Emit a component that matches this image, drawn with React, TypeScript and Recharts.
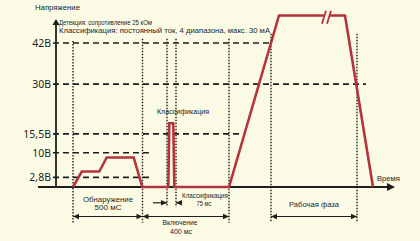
import { ComposedChart, Line, XAxis, YAxis, ReferenceLine, ReferenceDot } from 'recharts';

// waveform (time in arbitrary schematic units, voltage in V)
const waveT = [17, 25.8, 43.3, 50.7, 77.7, 86.3, 112.3, 113.3, 117.3, 118.3, 173, 223, 268, 270.5, 273, 289, 317];
const waveV = [0, 4.5, 4.5, 8.6, 8.6, 0, 0, 18.6, 18.6, 0, 0, 50, 50, null, 50, 50, 0];

// voltage levels on the Y axis
const levels = [42, 30, 15.5, 10, 2.8];
const levelLabels = ['42В', '30В', '15,5В', '10В', '2,8В'];
const levelEnd = [216, 310, 187, 94, 94];

// phase boundaries (dotted verticals)
const marks = [17, 86.5, 111, 120, 173, 215, 301];
const markTop = [42.6, 43.2, 43.2, 43.2, 43.2, 44.7, 44.7];
const markBottom = [-10.4, -10.4, -5.8, -5.8, -10.4, -10.4, -10.4];

// phase spans (double arrows)
const spanFrom = [17, 86.5, 215];
const spanTo = [86.5, 173, 301];

const BG = '#fbfbe5';
const RED = '#b3343a';
const INK = '#1e1e1e';
const FONT = '"Noto Sans", "DejaVu Sans", sans-serif';
const SMALL = '"Liberation Sans", Arial, sans-serif';

const waveData = waveT.map((t, i) => ({ t, v: waveV[i] }));

const txt = (s: string, size: number, anchor: string, len?: number, family = SMALL) => (p: any) => (
  <text x={p.cx} y={p.cy} fontSize={size} fontFamily={family} fill={INK} textAnchor={anchor}
    dominantBaseline="central" textLength={len} lengthAdjust={len ? 'spacingAndGlyphs' : undefined}>{s}</text>
);

const head = (dir: string) => (p: any) => {
  const { cx, cy } = p;
  let d = '';
  if (dir === 'right') d = `M${cx},${cy} L${cx - 6},${cy - 2.8} L${cx - 6},${cy + 2.8} Z`;
  if (dir === 'left') d = `M${cx},${cy} L${cx + 6},${cy - 2.8} L${cx + 6},${cy + 2.8} Z`;
  if (dir === 'up') d = `M${cx},${cy} L${cx - 3.5},${cy + 6} L${cx + 3.5},${cy + 6} Z`;
  if (dir === 'bigRight') d = `M${cx},${cy} L${cx - 8},${cy - 4} L${cx - 8},${cy + 4} Z`;
  return <path d={d} fill={INK} />;
};

export default function App() {
  return (
    <div style={{ position: 'absolute', left: 0, top: 0, width: 420, height: 241, background: BG }}>
      <ComposedChart width={420} height={241} data={waveData} margin={{ top: 1.78, right: 0, bottom: 2.55, left: 0 }}>
        <XAxis type="number" dataKey="t" domain={[-56, 364]} hide allowDataOverflow />
        <YAxis type="number" domain={[-15, 54]} hide allowDataOverflow />

        {levels.map((v, i) => (
          <ReferenceLine key={'l' + i} segment={[{ x: -3, y: v }, { x: levelEnd[i], y: v }]}
            stroke={INK} strokeWidth={1.6} strokeDasharray="6 4" />
        ))}
        {marks.map((t, i) => (
          <ReferenceLine key={'m' + i} segment={[{ x: t, y: markTop[i] }, { x: t, y: markBottom[i] }]}
            stroke={INK} strokeWidth={1.4} strokeDasharray="1.5 1.5" />
        ))}

        {/* axes */}
        <ReferenceLine segment={[{ x: 0, y: 0 }, { x: 0, y: 47.5 }]} stroke={INK} strokeWidth={1.8} />
        <ReferenceLine segment={[{ x: -18, y: 0 }, { x: 333, y: 0 }]} stroke={INK} strokeWidth={1.8} />
        <ReferenceDot x={0} y={49} r={0} shape={head('up')} />
        <ReferenceDot x={339} y={0} r={0} shape={head('bigRight')} />

        {/* span arrows */}
        {spanFrom.map((f, i) => (
          <ReferenceLine key={'s' + i} segment={[{ x: f, y: -8.6 }, { x: spanTo[i], y: -8.6 }]} stroke={INK} strokeWidth={1.2} />
        ))}
        {spanFrom.map((f, i) => (
          <ReferenceDot key={'sl' + i} x={f} y={-8.6} r={0} shape={head('left')} />
        ))}
        {spanTo.map((f, i) => (
          <ReferenceDot key={'sr' + i} x={f} y={-8.6} r={0} shape={head('right')} />
        ))}
        <ReferenceLine segment={[{ x: 97, y: -4.6 }, { x: 111, y: -4.6 }]} stroke={INK} strokeWidth={1.2} />
        <ReferenceDot x={111} y={-4.6} r={0} shape={head('right')} />
        <ReferenceLine segment={[{ x: 120, y: -4.6 }, { x: 125, y: -4.6 }]} stroke={INK} strokeWidth={1.2} />
        <ReferenceDot x={120} y={-4.6} r={0} shape={head('left')} />

        {/* break marks on plateau */}
        <ReferenceLine segment={[{ x: 266, y: 47.6 }, { x: 270, y: 51.4 }]} stroke={RED} strokeWidth={1.8} />
        <ReferenceLine segment={[{ x: 271, y: 47.6 }, { x: 275, y: 51.4 }]} stroke={RED} strokeWidth={1.8} />

        <Line type="linear" dataKey="v" stroke={RED} strokeWidth={2.6} dot={false} isAnimationActive={false} connectNulls={false} />

        {/* texts */}
        {levels.map((v, i) => (
          <ReferenceDot key={'t' + i} x={-5} y={v} r={0} shape={txt(levelLabels[i], 10.5, 'end', undefined, FONT)} />
        ))}
        <ReferenceDot x={-21} y={52.2} r={0} shape={txt('Напряжение', 8, 'start', 45)} />
        <ReferenceDot x={3} y={47.9} r={0} shape={txt('Детекция: сопротивление 25 кОм', 7.5, 'start', 93)} />
        <ReferenceDot x={3} y={45.5} r={0} shape={txt('Классификация: постоянный ток, 4 диапазона, макс. 30 мА', 7.5, 'start', 211)} />
        <ReferenceDot x={127} y={22.1} r={0} shape={txt('Классификация', 7.5, 'middle', 52)} />
        <ReferenceDot x={321} y={2.6} r={0} shape={txt('Время', 7.5, 'start', 23)} />
        <ReferenceDot x={52} y={-3.6} r={0} shape={txt('Обнаружение', 7, 'middle', 50)} />
        <ReferenceDot x={52} y={-6.05} r={0} shape={txt('500 мС', 7, 'middle', 27)} />
        <ReferenceDot x={149} y={-2.5} r={0} shape={txt('Классификация', 7, 'middle', 46)} />
        <ReferenceDot x={148} y={-4.95} r={0} shape={txt('75 мс', 7, 'middle', 15)} />
        <ReferenceDot x={124} y={-10.4} r={0} shape={txt('Включение', 7, 'middle', 35)} />
        <ReferenceDot x={125} y={-12.85} r={0} shape={txt('400 мс', 7, 'middle', 22)} />
        <ReferenceDot x={258} y={-5.2} r={0} shape={txt('Рабочая фаза', 7, 'middle', 50)} />
      </ComposedChart>
    </div>
  );
}
